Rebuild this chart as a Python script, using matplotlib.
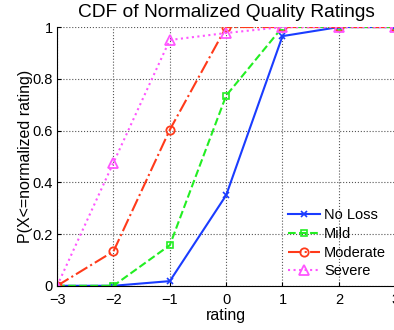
import matplotlib
matplotlib.use("Agg")
import matplotlib.pyplot as plt

ratings = [-3, -2, -1, 0, 1, 2, 3]
no_loss = [0, 0, 0.018, 0.35, 0.965, 1, 1]
mild = [0, 0, 0.157, 0.735, 1, 1, 1]
moderate = [0, 0.133, 0.603, 1, 1, 1, 1]
severe = [0, 0.476, 0.95, 0.977, 1, 1, 1]

plt.rcParams['font.family'] = ['Liberation Sans', 'DejaVu Sans']

fig = plt.figure(figsize=(3.94, 3.30), dpi=100)
ax = fig.add_axes([0.145, 0.134, 0.858, 0.784])

ax.plot(ratings, no_loss, color='#1a3cff', ls='-', lw=1.5, marker='x', ms=4, mew=1.2, label='No Loss')
ax.plot(ratings, mild, color='#22ee22', ls='--', lw=1.5, marker='s', ms=5, mfc='none', mew=1.2, label='Mild')
ax.plot(ratings, moderate, color='#ff3a1a', ls='-.', lw=1.5, marker='o', ms=6, mfc='none', mew=1.3, label='Moderate')
ax.plot(ratings, severe, color='#ff55ff', ls=':', lw=1.5, marker='^', ms=7, mfc='none', mew=1.3, label='Severe')

ax.set_xlim(-3, 3)
ax.set_ylim(0, 1)
ax.set_xticks(ratings)
ax.set_xticklabels(['\u22123', '\u22122', '\u22121', '0', '1', '2', '3'])
ax.set_yticks([0, 0.2, 0.4, 0.6, 0.8, 1])
ax.set_yticklabels(['0', '0.2', '0.4', '0.6', '0.8', '1'])
ax.grid(True, ls=':', color='#555555', lw=0.8)
ax.tick_params(direction='in', length=3, labelsize=10.5)
ax.tick_params(axis='x', pad=5)
ax.tick_params(axis='y', pad=3)
ax.spines['top'].set_visible(False)
ax.spines['right'].set_visible(False)

ax.set_title('CDF of Normalized Quality Ratings', fontsize=13.8, pad=7)
ax.set_xlabel('rating', fontsize=11.5, labelpad=1)
ax.set_ylabel('P(X<=normalized rating)', fontsize=11.5, labelpad=0)
ax.legend(loc='lower right', frameon=False, fontsize=10.5, handlelength=2.2,
          handletextpad=0.3, labelspacing=0.32, borderaxespad=0.1, bbox_to_anchor=(0.995, 0.0))

fig.savefig('out.png', dpi=100)
